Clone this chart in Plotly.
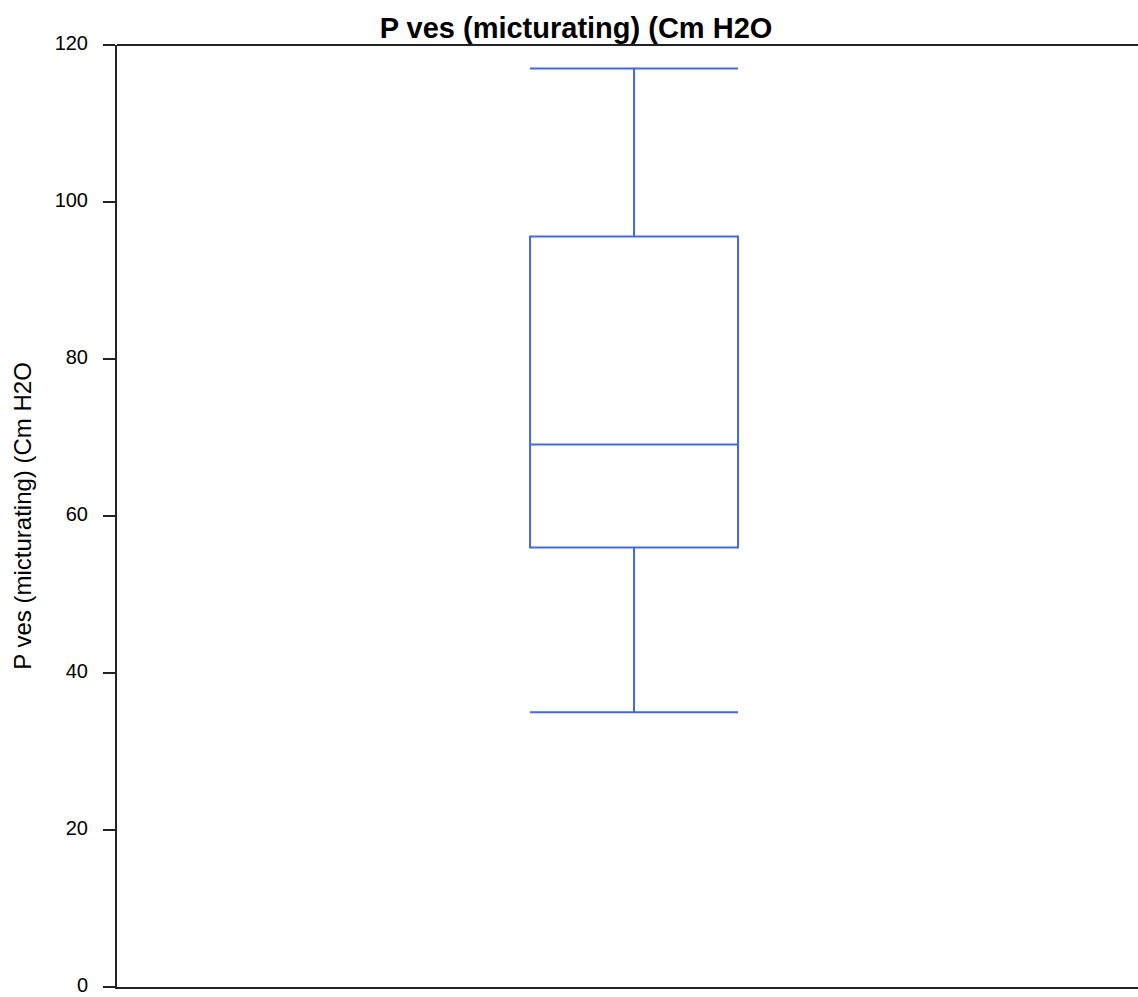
import plotly.graph_objects as go

# Summary statistics of bladder pressure during micturition (cm H2O)
pves_lower = [35]
pves_q1 = [56]
pves_median = [69.1]
pves_q3 = [95.6]
pves_upper = [117]

y_ticks = [0, 20, 40, 60, 80, 100, 120]
title_text = "P ves (micturating) (Cm H2O"

fig = go.Figure()
fig.add_trace(go.Box(
    x=[0],
    lowerfence=pves_lower,
    q1=pves_q1,
    median=pves_median,
    q3=pves_q3,
    upperfence=pves_upper,
    width=0.2037,
    whiskerwidth=1,
    line=dict(color="#4169E1", width=2),
    fillcolor="rgba(0,0,0,0)",
    showlegend=False,
    hoverinfo="y",
))

fig.update_layout(
    width=1138,
    height=997,
    margin=dict(l=117, r=0, t=45, b=10, autoexpand=False),
    paper_bgcolor="white",
    plot_bgcolor="white",
    font=dict(family="Liberation Sans, Arial, sans-serif", color="black", size=20),
    title=dict(
        text="<b>" + title_text + "</b>",
        x=576 / 1138, xanchor="center",
        y=1 - 28 / 997, yanchor="middle",
        font=dict(size=29, color="black"),
    ),
    xaxis=dict(
        range=[-0.5064, 0.4936],
        showticklabels=False,
        ticks="",
        showgrid=False,
        zeroline=False,
        showline=True,
        linecolor="#222",
        linewidth=2,
        automargin=False,
    ),
    yaxis=dict(
        range=[0, 120],
        tickvals=y_ticks,
        ticks="outside",
        ticklen=12,
        tickwidth=2,
        tickcolor="#222",
        ticklabelstandoff=11,
        ticklabelshift=-2,
        ticklabeloverflow="allow",
        showgrid=False,
        zeroline=False,
        showline=True,
        linecolor="#222",
        linewidth=2,
        automargin=False,
        tickfont=dict(size=20),
        title=dict(text=title_text, font=dict(size=24), standoff=16),
    ),
    shapes=[dict(
        type="line", xref="paper", yref="paper",
        x0=0, x1=1, y0=1, y1=1,
        line=dict(color="#222", width=2),
    )],
)

fig.write_html("out.html")
